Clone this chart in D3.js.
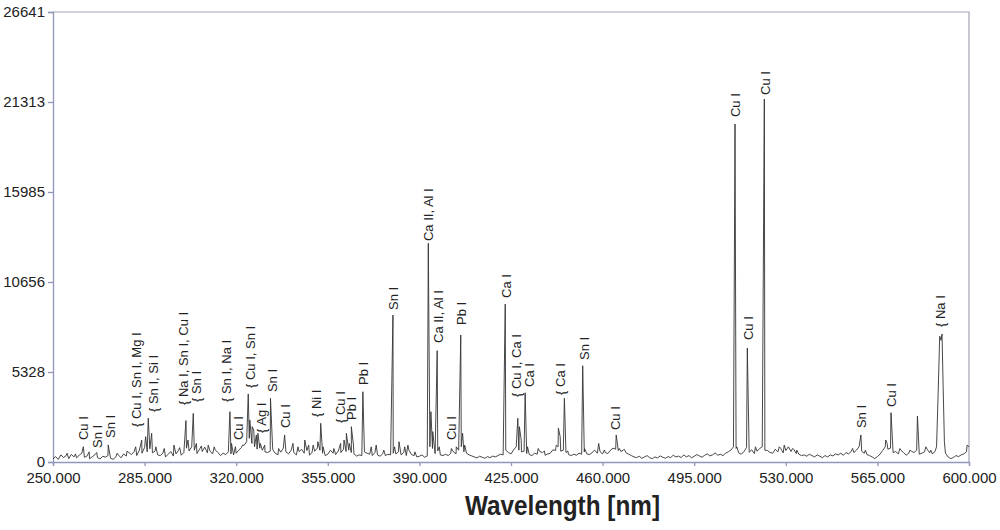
<!DOCTYPE html>
<html>
<head>
<meta charset="utf-8">
<script src="https://cdn.jsdelivr.net/npm/d3@7"></script>
<style>
body { margin: 0; background: #fff; }
svg { display: block; font-family: "Liberation Sans", Arial, sans-serif; }
</style>
</head>
<body>
<svg id="chart" width="1000" height="530"></svg>
<script>
const margin = {top: 12, right: 31, bottom: 68, left: 53};

// background noise, one sample per nm starting at 250 nm (null = covered by a line below)
const baseStart = 250;
const baseline = [
    180, 320, 150, 420, 260, 380, 200, 450, 300, 250,
    400, 520, 280, 350, 190, 310, 430, 260, 180, 340,
    290, 380, 220, 160, 300, 410, 250, 480, 350, 560,
    440, 620, 380, 700, 520, 860, 600, 780, 540, 650,
    420, 380, 520, 300, 460, 620, 350, 480, 700, 400,
    560, 820, 650, 900, 700, 500, 760, 620, 880, 540,
    650, 480, 720, 560, 380, 520, 440, 600, 480, 420,
    520, 700, 860, 980, 1200, 1400, 1100, 900, 760, 820,
    700, 600, 560, 640, 720, 500, 440, 580, 820, 600,
    480, 700, 560, 420, 620, 750, 520, 680, 400, 580,
    640, 820, 700, 520, 380, 460, 700, 520, 440, 650,
    560, 760, 620, 700, 560, 480, 350, 420, 380, 600,
    520, 460, 380, 560, 420, 340, 500, 380, 460, 420,
    520, 480, 600, 420, 560, 380, 700, 440, 380, 300,
    340, 420, 280, 360, 900, 800, 500, 650, 420, 380,
    460, 380, 520, 600, 480, 700, 900, 600, 520, 420,
    360, 300, 240, 340, 280, 220, 320, 260, 350, 300,
    380, 460, 420, 700, 560, 480, 720, 900, 700, 600,
    640, 500, 440, 380, 520, 460, 620, 560, 400, 480,
    520, 720, 680, 900, 640, 700, 560, 440, 380, 460,
    400, 520, 460, 600, 480, 440, 560, 700, 520, 620,
    480, 560, 500, 700, 820, 760, 680, 620, 720, 540,
    460, 380, 300, 260, 340, 220, 300, 380, 250, 200,
    300, 240, 360, 280, 220, 320, 260, 400, 300, 350,
    260, 420, 300, 380, 250, 340, 440, 360, 280, 400,
    480, 360, 420, 540, 400, 460, 380, 520, 600, 700,
    900, 800, 540, 460, 620, 850, 580, 720, 500, 640,
    800, 900, 700, 680, 560, 520, 760, 600, 820, 540,
    680, 900, 620, 760, 500, 460, 380, 420, 340, 460,
    380, 300, 420, 340, 260, 380, 300, 420, 360, 480,
    420, 520, 400, 560, 480, 620, 560, 700, 900, 640,
    520, 440, 380, 300, 200, 320, 460, 680, 900, 760,
    820, 560, 620, 480, 700, 560, 400, 520, 640, 560,
    700, 460, 520, 600, 760, 540, 480, 620, null, null,
    null, 520, 300, 200, 260, 380, 320, 420, 480, 600,
    900
];

// emission lines [wavelength nm, counts]
const lines = [
    [255.4, 520], [258.6, 480], [261.6, 906], [263.8, 600], [266.7, 560],
    [271.1, 1010], [274.5, 520], [278.3, 640], [281.6, 900], [283.9, 1300],
    [285.4, 1500], [286.4, 2600], [287.7, 1700], [289.3, 900], [292.5, 800],
    [296.2, 1000], [298.4, 850], [300.8, 2450], [301.6, 1300], [303.6, 2880],
    [304.8, 1100], [306.7, 950], [309.3, 1000], [311.6, 900], [317.6, 2980],
    [318.2, 1100], [319.7, 910], [322.4, 1000], [324.6, 4030], [325.2, 2490],
    [326.1, 2090], [326.7, 1890], [327.7, 1600], [328.3, 1700], [329.2, 1100],
    [330.9, 1000], [333.1, 3770], [333.9, 900], [336.2, 800], [338.5, 1600],
    [341.7, 1100], [343.6, 900], [346.2, 1300], [347.7, 1000], [349.4, 1000],
    [351.2, 1200], [352.3, 2290], [353.2, 900], [357.3, 800], [359.9, 1100],
    [361.2, 1300], [362.1, 1700], [363.2, 1100], [364.0, 2090], [364.8, 1000],
    [368.4, 4160], [371.6, 900], [373.5, 1000], [376.4, 700], [379.9, 8700],
    [380.5, 900], [382.2, 1200], [384.4, 900], [385.6, 1000], [388.3, 600],
    [393.4, 12950], [394.4, 2980], [395.1, 1800], [396.8, 6590], [397.6, 900],
    [402.2, 800], [404.1, 900], [405.8, 7520], [406.5, 1700], [407.3, 1000],
    [422.8, 9350], [427.6, 2590], [428.2, 2090], [428.9, 1300], [430.4, 4100],
    [431.3, 900], [435.4, 800], [437.8, 650], [442.3, 1000], [443.1, 2000],
    [443.8, 1500], [445.4, 3770], [446.7, 650], [452.4, 5700], [453.1, 800],
    [458.5, 1100], [460.7, 710], [465.2, 1600], [466.4, 800], [468.3, 750],
    [510.6, 20010], [511.3, 900], [515.3, 6750], [518.4, 900], [521.8, 21490],
    [526.2, 710], [527.5, 900], [529.4, 1000], [532.6, 800], [534.2, 700],
    [555.5, 800], [558.7, 1600], [560.4, 700], [568.2, 1300], [568.7, 1100],
    [570.2, 2920], [573.6, 800], [577.4, 700], [580.3, 2720], [583.5, 900],
    [585.4, 700], [587.6, 900], [588.2, 4000], [588.8, 7450], [589.3, 7200],
    [589.7, 7580], [590.1, 4600], [590.6, 1200], [599.3, 1000]
];

const xTicks = [250, 285, 320, 355, 390, 425, 460, 495, 530, 565, 600];
const yTicks = [0, 5328, 10656, 15985, 21313, 26641];

// [wavelength, counts, text] -- where each label starts
const labels = [
    [261.5, 1300, "Cu I"], [266.8, 830, "Sn I"], [272.1, 1420, "Sn I"],
    [281.9, 2070, "{ Cu I, Sn I, Mg I"], [288.3, 2960, "{ Sn I, Si I"],
    [299.7, 3370, "{ Na I, Sn I, Cu I"], [304.8, 3550, "{ Sn I"],
    [316.3, 3550, "{ Sn I, Na I"], [321.0, 1300, "Cu I"],
    [325.5, 4380, "{ Cu I, Sn I"], [329.7, 1720, "{ Ag I"],
    [333.7, 4140, "Sn I"], [338.8, 2010, "Cu I"], [350.6, 2660, "{ Ni I"],
    [359.8, 2310, "{ Cu I"], [364.0, 2490, "Pb I"], [368.8, 4560, "Pb I"],
    [380.2, 9000, "Sn I"], [393.5, 13080, "Ca II, Al I"],
    [397.1, 7045, "Ca II, Al I"], [402.2, 1300, "Cu I"], [406.0, 8110, "Pb I"],
    [423.2, 9710, "Ca I"], [427.0, 3850, "{ Cu I, Ca I"], [432.1, 4440, "Ca I"],
    [443.8, 3970, "{ Ca I"], [453.1, 6040, "Sn I"], [464.9, 1890, "Cu I"],
    [510.7, 20420, "Cu I"], [522.1, 21730, "Cu I"], [515.6, 7220, "Cu I"],
    [558.8, 2010, "Sn I"], [570.3, 3260, "Cu I"], [588.9, 7990, "{ Na I"]
];

function drawChart(){
    var svg = d3.select("#chart");
    var w = +svg.attr("width") - margin.left - margin.right;
    var h = +svg.attr("height") - margin.top - margin.bottom;

    var spectrum = baseline
        .map(function(v, i) { return [baseStart + i, v]; })
        .filter(function(d) { return d[1] !== null; })
        .concat(lines)
        .sort(function(a, b) { return a[0] - b[0]; });

    var xR = d3.scaleLinear().domain([250, 600]).range([0, w]);
    var yR = d3.scaleLinear().domain([0, 26641]).range([h, 0]);

    var g = svg.append("g")
        .attr("transform", "translate(" + margin.left + "," + margin.top + ")");

    // frame (top + right)
    g.append("path")
        .attr("d", "M0,0H" + w + "V" + h)
        .attr("fill", "none")
        .attr("stroke", "#a3a5b3")
        .attr("stroke-width", 1.2);

    var xAxis = g.append("g")
        .attr("transform", "translate(0," + h + ")")
        .call(d3.axisBottom(xR)
            .tickValues(xTicks)
            .tickSize(4)
            .tickPadding(6)
            .tickFormat(d3.format(".3f")));

    var yAxis = g.append("g")
        .call(d3.axisLeft(yR)
            .tickValues(yTicks)
            .tickSize(5)
            .tickPadding(3)
            .tickFormat(d3.format("d")));

    [xAxis, yAxis].forEach(function(a) {
        a.selectAll("path, line").attr("stroke", "#9197b8").attr("stroke-width", 1.3);
        a.selectAll("text")
            .attr("fill", "#222")
            .style("font-size", "15px")
            .style("font-family", "'Liberation Sans', Arial, sans-serif");
    });

    // the spectrum itself
    g.append("path")
        .datum(spectrum)
        .attr("fill", "none")
        .attr("stroke", "#333")
        .attr("stroke-width", 0.9)
        .attr("d", d3.line()
            .x(function(d) { return xR(d[0]); })
            .y(function(d) { return yR(d[1]); }));

    // element labels, rotated, reading upwards
    g.selectAll(".lbl")
        .data(labels)
        .enter()
        .append("text")
            .attr("class", "lbl")
            .attr("transform", function(d) {
                return "translate(" + xR(d[0]) + "," + yR(d[1]) + ") rotate(-90)";
            })
            .attr("dy", "0.35em")
            .attr("fill", "#222")
            .style("font-size", "13px")
            .text(function(d) { return d[2]; });

    // x axis title
    svg.append("text")
        .attr("x", 465)
        .attr("y", 515)
        .attr("textLength", 195)
        .attr("lengthAdjust", "spacingAndGlyphs")
        .attr("fill", "#222")
        .style("font-size", "27px")
        .style("font-weight", "bold")
        .text("Wavelength [nm]");
}

drawChart();
</script>
</body>
</html>
